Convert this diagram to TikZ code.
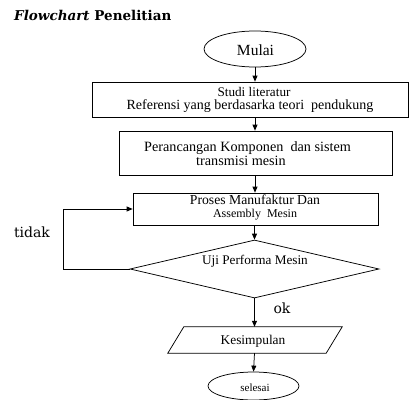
\documentclass[tikz,border=0pt]{standalone}
\usepackage{fontspec}
\setmainfont{Liberation Serif}
\newfontfamily\dejaserif{DejaVu Serif}
\usetikzlibrary{arrows.meta,shapes.geometric}
\begin{document}
\begin{tikzpicture}[x=1pt,y=-1pt,
  lw/.style={line width=0.75pt},
  box/.style={draw, lw, rectangle, inner sep=0pt},
  oval/.style={draw, lw, ellipse, inner sep=0pt},
  txt/.style={anchor=base, inner sep=0pt},
  arr/.style={draw, lw, -{Triangle[length=6pt,width=5pt]}},
  fs/.style={font=\fontsize{#1}{#1}\selectfont}]
\useasboundingbox (0,0) rectangle (409,399);
% title
\node[txt, anchor=base west] (title) at (14,20) {\fontsize{13.5}{15}\selectfont\dejaserif\bfseries\itshape Flowchart \upshape Penelitian};
% shapes
\node[oval, minimum width=102pt, minimum height=36pt] (mulai) at (255,49) {};
\node[box, minimum width=316pt, minimum height=35pt] (studi) at (250,99.5) {};
\node[box, minimum width=273pt, minimum height=44pt] (peran) at (255.5,153) {};
\node[box, minimum width=245pt, minimum height=32pt] (proses) at (255.5,209) {};
\node[diamond, draw, lw, inner sep=0pt, minimum width=249pt, minimum height=58pt] (uji) at (254.5,269) {};
\node[rectangle, inner sep=0pt, minimum width=158pt, minimum height=26pt] (kes) at (255,340) {};
\draw[lw] ([xshift=8pt]kes.north west) -- ([xshift=8pt]kes.north east) -- ([xshift=-8pt]kes.south east) -- ([xshift=-8pt]kes.south west) -- cycle;
\node[oval, minimum width=91pt, minimum height=28pt] (selesai) at (253.5,386) {};
% texts
\node[txt, fs=15.5] (tmulai) at (255.5,55) {Mulai};
\node[txt, fs=13.2] (tstudi) at (254,96) {Studi literatur};
\node[txt, fs=14] (tref) at (250,109) {Referensi yang berdasarka teori\ \ pendukung};
\node[txt, fs=14.2, anchor=base west] (tper1) at (144,151) {Perancangan Komponen\ \ dan sistem};
\node[txt, fs=14.2, anchor=base west] (tper2) at (196,165) {transmisi mesin};
\node[txt, fs=13.7] (tpro1) at (255,204) {Proses Manufaktur Dan};
\node[txt, fs=12] (tpro2) at (255,217) {Assembly\ \ Mesin};
\node[txt, fs=13.2] (tuji) at (255,264) {Uji Performa Mesin};
\node[txt, fs=13.4] (tkes) at (253,344) {Kesimpulan};
\node[txt, fs=11] (tsel) at (255,391) {selesai};
\node[txt, font=\fontsize{14}{16}\selectfont\dejaserif] (tidak) at (32,237) {tidak};
\node[txt, font=\fontsize{14}{16}\selectfont\dejaserif] (ok) at (282,313) {ok};
% connectors
\draw[arr] (mulai.south) -- (mulai.south |- studi.north);
\draw[arr] (mulai.south |- studi.south) -- (mulai.south |- peran.north);
\draw[arr] (mulai.south |- peran.south) -- (mulai.south |- proses.north);
\draw[arr] (uji.north |- proses.south) -- (uji.north);
\draw[arr] (uji.west) -- ++(-66,0) |- (proses.west);
\draw[arr] (uji.south) -- (uji.south |- kes.north);
\draw[arr] (uji.south |- kes.south) -- (selesai.north);
\end{tikzpicture}
\end{document}
